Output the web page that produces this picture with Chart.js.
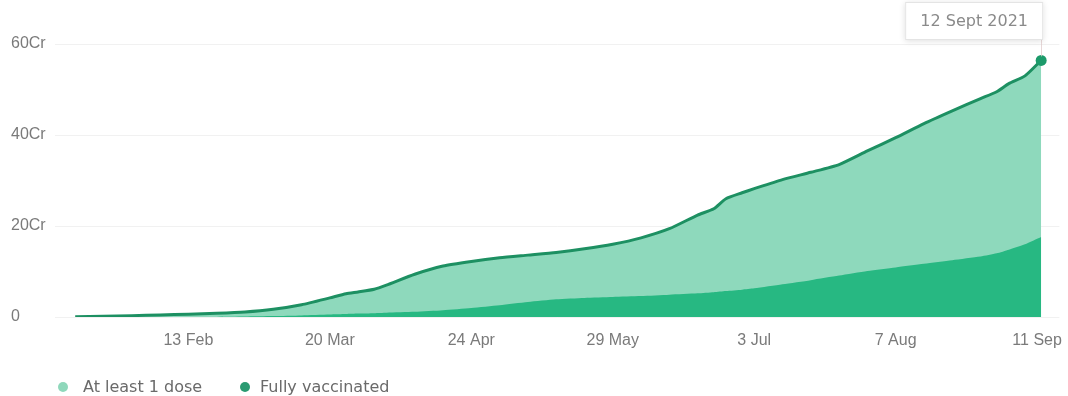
<!DOCTYPE html>
<html>
<head>
<meta charset="utf-8">
<script src="https://cdn.jsdelivr.net/npm/chart.js@4.4.1/dist/chart.umd.min.js"></script>
<style>
  html, body { margin: 0; padding: 0; background: #ffffff; }
  #wrap { position: relative; width: 1068px; height: 396px; overflow: hidden; }
  #chart { position: absolute; left: 0; top: 0; }
  .legend { position: absolute; top: 377px; font: 16px "DejaVu Sans", sans-serif; color: #6a6a6a; line-height: 20px; white-space: nowrap; }
  .legend .dot { position: absolute; top: 5px; width: 10px; height: 10px; border-radius: 50%; }
</style>
</head>
<body>
<div id="wrap">
  <canvas id="chart" width="1068" height="396"></canvas>
  <div class="legend" id="leg1" style="left:83px;"><span class="dot" style="left:-25px;background:#8fd8bb;"></span></div>
  <div class="legend" id="leg2" style="left:260px;"><span class="dot" style="left:-20px;background:#2a9a71;"></span></div>
</div>
<script>
// Days counted from 16 Jan 2021 (start of the vaccination drive)
const days = [0, 7, 14, 21, 28, 35, 42, 49, 56, 63, 67, 70, 74, 77, 84, 91, 98, 105, 112, 119, 126,
  133, 140, 147, 154, 158, 161, 165, 168, 175, 182, 189, 196, 203, 210, 217, 224, 228, 231, 235, 239];

// Cumulative people vaccinated, in crore
const atLeastOneDose = [0.05, 0.15, 0.3, 0.45, 0.6, 0.8, 1.1, 1.7, 2.7, 4.2, 5.1, 5.5, 6.1, 7.0, 9.4, 11.2, 12.2, 13.0, 13.6, 14.2, 15.0,
  16.0, 17.4, 19.4, 22.4, 23.8, 26.0, 27.3, 28.2, 30.2, 31.8, 33.5, 36.5, 39.4, 42.5, 45.3, 48.0, 49.5, 51.3, 53.0, 56.4];
const fullyVaccinated = [0, 0, 0, 0, 0, 0.02, 0.1, 0.2, 0.35, 0.55, 0.65, 0.75, 0.85, 0.95, 1.15, 1.5, 2.0, 2.6, 3.3, 3.9, 4.2,
  4.4, 4.6, 4.9, 5.2, 5.45, 5.7, 6.0, 6.3, 7.2, 8.1, 9.1, 10.1, 10.9, 11.7, 12.5, 13.3, 14.0, 14.8, 16.0, 17.6];

const seriesNames = ['At least 1 dose', 'Fully vaccinated'];

// X-axis ticks (day offsets) and their labels
const tickDays = [28, 63, 98, 133, 168, 203, 238];
const tickLabels = ['13 Feb', '20 Mar', '24 Apr', '29 May', '3 Jul', '7 Aug', '11 Sep'];

// Y-axis ticks
const yTicks = [0, 20, 40, 60];
const yTickLabels = ['0', '20Cr', '40Cr', '60Cr'];

const hoverLabel = '12 Sept 2021';

document.getElementById('leg1').appendChild(document.createTextNode(seriesNames[0]));
document.getElementById('leg2').appendChild(document.createTextNode(seriesNames[1]));

const toPoints = arr => days.map((d, i) => ({ x: d, y: arr[i] }));
const lastIdx = days.length - 1;

// Hover card pinned to the latest point, with a thin guide line down to it
const hoverCard = {
  id: 'hoverCard',
  afterDatasetsDraw(chart) {
    const meta = chart.getDatasetMeta(1);
    const pt = meta.data[lastIdx];
    if (!pt) return;
    const ctx = chart.ctx;
    const w = 138, h = 38, top = 2;
    const right = pt.x + 2;
    const left = right - w;
    ctx.save();
    ctx.strokeStyle = 'rgba(225,205,205,0.8)';
    ctx.lineWidth = 1;
    ctx.beginPath();
    ctx.moveTo(Math.round(pt.x) + 0.5, top + h);
    ctx.lineTo(Math.round(pt.x) + 0.5, pt.y - 4);
    ctx.stroke();
    ctx.shadowColor = 'rgba(0,0,0,0.13)';
    ctx.shadowBlur = 6;
    ctx.shadowOffsetY = 1;
    ctx.fillStyle = '#ffffff';
    ctx.fillRect(left, top, w, h);
    ctx.shadowColor = 'transparent';
    ctx.strokeStyle = '#e4e4e4';
    ctx.strokeRect(left + 0.5, top + 0.5, w - 1, h - 1);
    ctx.fillStyle = '#8a8a8a';
    ctx.font = '16px "DejaVu Sans", sans-serif';
    ctx.textAlign = 'center';
    ctx.textBaseline = 'middle';
    ctx.fillText(hoverLabel, left + w / 2, top + h / 2 + 1);
    ctx.restore();
  }
};

new Chart(document.getElementById('chart'), {
  type: 'line',
  data: {
    datasets: [
      {
        label: seriesNames[1],
        data: toPoints(fullyVaccinated),
        fill: 'origin',
        backgroundColor: '#27b882',
        borderColor: '#27b882',
        borderWidth: 0,
        pointRadius: 0,
        tension: 0.2
      },
      {
        label: seriesNames[0],
        data: toPoints(atLeastOneDose),
        fill: 'origin',
        backgroundColor: '#8ed9bc',
        borderColor: '#1d9062',
        borderWidth: 3,
        tension: 0.2,
        pointRadius: ctx => ctx.dataIndex === lastIdx ? 5.5 : 0,
        pointBackgroundColor: '#1c9a6a',
        pointBorderColor: '#1c9a6a',
        pointBorderWidth: 0
      }
    ]
  },
  options: {
    responsive: false,
    animation: false,
    events: [],
    layout: { padding: { left: 11, right: 0, top: 44, bottom: 0 } },
    plugins: {
      legend: { display: false },
      tooltip: { enabled: false }
    },
    scales: {
      x: {
        type: 'linear',
        min: -5,
        max: 243.5,
        border: { display: false },
        grid: { display: false },
        afterBuildTicks: scale => { scale.ticks = tickDays.map(v => ({ value: v })); },
        afterFit: scale => { scale.height = 79; },
        ticks: {
          autoSkip: false,
          maxRotation: 0,
          padding: 6,
          color: '#7a7a7a',
          font: { family: '"Liberation Sans", Arial, sans-serif', size: 16 },
          callback: v => tickLabels[tickDays.indexOf(v)]
        }
      },
      y: {
        min: 0,
        max: 60,
        border: { display: false },
        grid: { color: '#f1f1f1', lineWidth: 1, drawTicks: false },
        afterBuildTicks: scale => { scale.ticks = yTicks.map(v => ({ value: v })); },
        afterFit: scale => { scale.width = 44; },
        ticks: {
          crossAlign: 'far',
          padding: 0,
          color: '#7a7a7a',
          font: { family: '"Liberation Sans", Arial, sans-serif', size: 16 },
          callback: v => yTickLabels[yTicks.indexOf(v)]
        }
      }
    }
  },
  plugins: [hoverCard]
});
</script>
</body>
</html>
